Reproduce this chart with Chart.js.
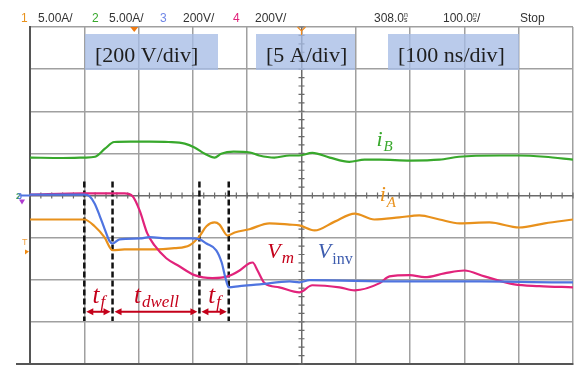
<!DOCTYPE html>
<html>
<head>
<meta charset="utf-8">
<script src="https://cdn.jsdelivr.net/npm/chart.js@4.4.1/dist/chart.umd.min.js"></script>
<style>
  html, body { margin: 0; padding: 0; background: #fff; }
  canvas { display: block; }
</style>
</head>
<body>
<canvas id="scope" width="574" height="367"></canvas>
<script>
// time in ns (100 ns/div, 0 = screen centre), amplitude in divisions from the centre line
const iBTime = [-500,-440,-400,-380,-362,-345,-315,-280,-245,-215,-197,-178,-160,-148,-125,-95,-78,-50,-22,-5,20,52,88,116,144,200,254,290,365,400,448,500];
const iBDiv  = [0.90,0.89,0.90,0.92,1.11,1.27,1.28,1.28,1.27,1.23,1.14,0.99,0.90,0.99,1.04,1.02,0.95,0.90,0.95,0.95,1.01,0.90,0.80,0.85,0.85,0.83,0.85,0.92,0.95,0.95,0.92,0.85];

const iATime = [-500,-400,-381,-363,-348,-326,-280,-234,-206,-188,-175,-160,-151,-136,-123,-96,-59,-22,-4,24,61,98,134,180,217,254,291,346,401,448,500];
const iADiv  = [-0.57,-0.57,-0.73,-0.99,-1.30,-1.28,-1.28,-1.25,-1.18,-0.97,-0.73,-0.64,-0.69,-0.95,-0.88,-0.80,-0.66,-0.69,-0.71,-0.83,-0.62,-0.43,-0.57,-0.52,-0.47,-0.57,-0.66,-0.64,-0.76,-0.66,-0.57];

const vinvTime = [-500,-400,-390,-381,-372,-363,-354,-348,-335,-298,-280,-243,-201,-188,-175,-157,-147,-140,-134,-114,-77,-22,-4,15,180,328,475,500];
const vinvDiv  = [0.02,0.02,-0.02,-0.19,-0.47,-0.78,-1.07,-1.14,-1.04,-1.02,-0.99,-1.02,-1.02,-1.04,-1.14,-1.30,-1.59,-1.96,-2.18,-2.15,-2.11,-2.04,-2.06,-2.01,-2.04,-2.04,-2.06,-2.06];

const vmTime = [-500,-400,-326,-311,-298,-284,-271,-249,-225,-197,-164,-136,-114,-96,-90,-81,-68,-41,-4,20,70,98,144,162,199,227,263,300,337,392,438,500];
const vmDiv  = [0.02,0.05,0.05,-0.02,-0.36,-0.90,-1.18,-1.49,-1.68,-1.89,-1.96,-1.92,-1.78,-1.61,-1.59,-1.78,-2.08,-2.18,-2.30,-2.13,-2.18,-2.25,-2.08,-1.92,-1.89,-1.94,-1.85,-1.78,-1.92,-2.11,-2.15,-2.18];

// switching instants (dashed markers) and the intervals between them
const edgeTimes = [-400, -348, -188, -134];
const edgeTop = 0.33, edgeBottom = -2.98;
const intervalLevel = -2.76;
const intervalNames = [['t', 'f'], ['t', 'dwell'], ['t', 'f']];

const scaleTags = ['[200 V/div]', '[5 A/div]', '[100 ns/div]'];
const delayNs = -308;
const triggerDiv = -1.09;

const C = { iA: '#e8911c', iB: '#38a82c', vinv: '#4f74e0', vm: '#e1237b', note: '#c4001a', inv: '#3d5cae' };

function pts(t, v) { return t.map((x, i) => ({ x: x, y: v[i] })); }

function trace(label, t, v, color) {
  return { label: label, data: pts(t, v), borderColor: color, borderWidth: 2.2,
    pointRadius: 0, cubicInterpolationMode: 'monotone', fill: false };
}

const datasets = [
  trace('Vinv', vinvTime, vinvDiv, C.vinv),
  trace('Vm', vmTime, vmDiv, C.vm),
  trace('iA', iATime, iADiv, C.iA),
  trace('iB', iBTime, iBDiv, C.iB)
];
edgeTimes.forEach(function (t) {
  datasets.push({ data: [{ x: t, y: edgeTop }, { x: t, y: edgeBottom }], borderColor: '#111',
    borderWidth: 2.5, borderDash: [6, 3], pointRadius: 0, fill: false });
});

function subText(ctx, x, y, main, sub, color, mainFont, subFont, drop, centre) {
  ctx.font = mainFont; const w1 = ctx.measureText(main).width;
  ctx.font = subFont; const w2 = ctx.measureText(sub).width;
  let x0 = centre ? x - (w1 + w2) / 2 : x;
  ctx.fillStyle = color;
  ctx.font = mainFont; ctx.fillText(main, x0, y);
  ctx.font = subFont; ctx.fillText(sub, x0 + w1 + 1, y + drop);
}

const overlay = {
  id: 'overlay',
  beforeDatasetsDraw(chart) {
    const ctx = chart.ctx, x = chart.scales.x, y = chart.scales.y;
    const cx = x.getPixelForValue(0), cy = y.getPixelForValue(0);
    ctx.save();
    // minor ticks along the centre cross
    ctx.strokeStyle = '#6a6a6a'; ctx.lineWidth = 1.2;
    ctx.beginPath();
    for (let t = -500; t <= 500; t += 20) {
      const px = x.getPixelForValue(t);
      ctx.moveTo(px, cy - 3); ctx.lineTo(px, cy + 3);
    }
    for (let k = -20; k <= 20; k++) {
      const py = y.getPixelForValue(k / 5);
      ctx.moveTo(cx - 3, py); ctx.lineTo(cx + 3, py);
    }
    ctx.stroke();

    // scale boxes
    const boxes = [[85, 218], [256, 355], [388, 519]];
    ctx.font = '22px "Liberation Serif", "Times New Roman", serif';
    ctx.textBaseline = 'alphabetic';
    boxes.forEach(function (b, i) {
      ctx.fillStyle = 'rgba(166,189,230,0.78)';
      ctx.fillRect(b[0], 34, b[1] - b[0], 36);
      ctx.fillStyle = '#1e1e1e';
      ctx.fillText(scaleTags[i], b[0] + 10, 62);
    });

    // bottom frame runs past the left edge
    ctx.strokeStyle = '#555'; ctx.lineWidth = 2;
    ctx.beginPath();
    ctx.moveTo(16, chart.chartArea.bottom); ctx.lineTo(chart.chartArea.left, chart.chartArea.bottom);
    ctx.stroke();
    ctx.restore();
  },
  afterDatasetsDraw(chart) {
    const ctx = chart.ctx, x = chart.scales.x, y = chart.scales.y;
    ctx.save();
    // interval arrows between the dashed markers
    const ay = y.getPixelForValue(intervalLevel);
    ctx.strokeStyle = C.note; ctx.fillStyle = C.note; ctx.lineWidth = 2;
    for (let i = 0; i < edgeTimes.length - 1; i++) {
      const x1 = x.getPixelForValue(edgeTimes[i]) + 2;
      const x2 = x.getPixelForValue(edgeTimes[i + 1]) - 2;
      ctx.beginPath(); ctx.moveTo(x1 + 4, ay); ctx.lineTo(x2 - 4, ay); ctx.stroke();
      ctx.beginPath();
      ctx.moveTo(x1, ay); ctx.lineTo(x1 + 7, ay - 3.5); ctx.lineTo(x1 + 7, ay + 3.5); ctx.closePath();
      ctx.moveTo(x2, ay); ctx.lineTo(x2 - 7, ay - 3.5); ctx.lineTo(x2 - 7, ay + 3.5); ctx.closePath();
      ctx.fill();
      const mid = (x1 + x2) / 2;
      subText(ctx, mid, ay - 9, intervalNames[i][0], intervalNames[i][1], C.note,
        'italic 25px "Liberation Serif", serif', 'italic 17px "Liberation Serif", serif', 4, true);
    }

    // trace names
    const P = function (t, d) { return [x.getPixelForValue(t), y.getPixelForValue(d)]; };
    let p = P(138, 1.18);
    subText(ctx, p[0], p[1], 'i', 'B', C.iB, 'italic 22px "Liberation Serif", serif', 'italic 15px "Liberation Serif", serif', 5, false);
    p = P(144, -0.12);
    subText(ctx, p[0], p[1], 'i', 'A', C.iA, 'italic 22px "Liberation Serif", serif', 'italic 15px "Liberation Serif", serif', 6, false);
    p = P(-63, -1.49);
    subText(ctx, p[0], p[1], 'V', 'm', C.note, 'italic 22px "Liberation Serif", serif', 'italic 17px "Liberation Serif", serif', 5, false);
    p = P(30, -1.49);
    subText(ctx, p[0], p[1], 'V', 'inv', C.inv, 'italic 22px "Liberation Serif", serif', '16px "Liberation Serif", serif', 6, false);
    ctx.restore();
  },
  afterDraw(chart) {
    const ctx = chart.ctx, x = chart.scales.x, y = chart.scales.y, a = chart.chartArea;
    ctx.save();
    // status line
    ctx.font = '12px "Liberation Sans", Arial, sans-serif';
    ctx.textBaseline = 'alphabetic';
    const head = [
      ['1', 21, C.iA], ['5.00A/', 38, '#333'], ['2', 92, C.iB], ['5.00A/', 109, '#333'],
      ['3', 160, '#6f86e6'], ['200V/', 183, '#333'], ['4', 233, C.vm], ['200V/', 255, '#333'],
      ['308.0', 374, '#333'], ['100.0', 443, '#333'], ['Stop', 520, '#333']
    ];
    head.forEach(function (h) { ctx.fillStyle = h[2]; ctx.fillText(h[0], h[1], 22); });
    // stacked "ns" unit glyphs
    ctx.fillStyle = '#333'; ctx.font = '7px "Liberation Sans", sans-serif';
    ctx.fillText('n', 404, 16.5); ctx.fillText('s', 404, 22);
    ctx.fillText('n', 473, 16.5); ctx.fillText('s', 473, 22);
    ctx.font = '12px "Liberation Sans", Arial, sans-serif';
    ctx.fillText('/', 477, 22);

    // delay marker and time reference at the top edge
    const dx = x.getPixelForValue(delayNs);
    ctx.fillStyle = '#f07a10';
    ctx.beginPath(); ctx.moveTo(dx - 4, a.top); ctx.lineTo(dx + 4, a.top); ctx.lineTo(dx, a.top + 5); ctx.closePath(); ctx.fill();
    const rx = x.getPixelForValue(0);
    ctx.strokeStyle = '#f08a20'; ctx.lineWidth = 1.2;
    ctx.beginPath();
    ctx.moveTo(rx - 4, a.top); ctx.lineTo(rx, a.top + 4); ctx.lineTo(rx + 4, a.top);
    ctx.moveTo(rx, a.top + 4); ctx.lineTo(rx, a.top + 8);
    ctx.stroke();

    // channel ground marker and trigger level on the left edge
    const gy = y.getPixelForValue(0);
    ctx.strokeStyle = C.vinv; ctx.lineWidth = 2;
    ctx.beginPath(); ctx.moveTo(21, gy); ctx.lineTo(a.left, gy); ctx.stroke();
    ctx.font = 'bold 9px "Liberation Sans", sans-serif';
    ctx.fillStyle = C.iB; ctx.fillText('2', 16, gy + 3);
    ctx.fillStyle = '#5a78e6'; ctx.fillText('3', 17, gy + 3);
    ctx.fillStyle = '#b03ad0';
    ctx.beginPath(); ctx.moveTo(19, gy + 4); ctx.lineTo(25, gy + 4); ctx.lineTo(22, gy + 9); ctx.closePath(); ctx.fill();
    const ty = y.getPixelForValue(triggerDiv);
    ctx.fillStyle = '#f0a040'; ctx.font = '9px "Liberation Sans", sans-serif';
    ctx.fillText('T', 22, ty + 4);
    ctx.fillStyle = '#f08a10';
    ctx.beginPath(); ctx.moveTo(25, ty + 8); ctx.lineTo(29, ty + 10); ctx.lineTo(25, ty + 13); ctx.closePath(); ctx.fill();
    ctx.restore();
  }
};

function gridColor(c) { return c.tick && c.tick.value === 0 ? '#6a6a6a' : '#a0a0a0'; }

new Chart(document.getElementById('scope').getContext('2d'), {
  type: 'line',
  data: { datasets: datasets },
  options: {
    responsive: false,
    animation: false,
    events: [],
    layout: { padding: { left: 30, top: 27, right: 1, bottom: 3 } },
    plugins: { legend: { display: false }, tooltip: { enabled: false } },
    scales: {
      x: {
        type: 'linear', min: -500, max: 500,
        ticks: { display: false, stepSize: 100 },
        grid: { color: gridColor, lineWidth: 1.5, drawTicks: false },
        border: { display: true, color: '#555', width: 2 }
      },
      y: {
        type: 'linear', min: -4, max: 4,
        ticks: { display: false, stepSize: 1 },
        grid: { color: gridColor, lineWidth: 1.5, drawTicks: false },
        border: { display: true, color: '#555', width: 2 }
      }
    }
  },
  plugins: [overlay]
});
</script>
</body>
</html>
